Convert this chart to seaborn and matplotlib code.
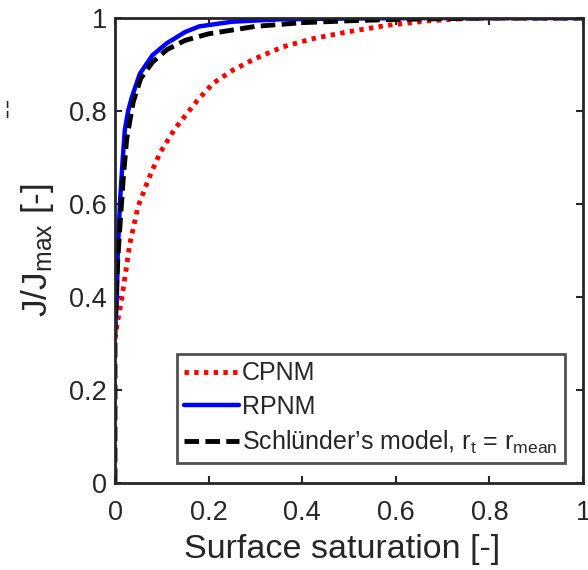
import numpy as np
import pandas as pd
import matplotlib
matplotlib.use("Agg")
import matplotlib.pyplot as plt
import seaborn as sns

# --- data ---
cpnm_s = [0, 0.005, 0.014, 0.032, 0.049, 0.071, 0.096, 0.128, 0.177, 0.21, 0.252, 0.30, 0.359, 0.42, 0.496, 0.58, 0.67, 0.75, 0.80, 1.0]
cpnm_j = [0.31, 0.345, 0.394, 0.516, 0.594, 0.652, 0.71, 0.762, 0.824, 0.86, 0.888, 0.913, 0.938, 0.955, 0.970, 0.984, 0.994, 0.999, 1.0, 1.0]

rpnm_s = [0, 0.002, 0.004, 0.006, 0.011, 0.016, 0.021, 0.028, 0.036, 0.053, 0.08, 0.111, 0.15, 0.18, 0.25, 0.35, 0.5, 0.7, 1.0]
rpnm_j = [0.333, 0.36, 0.40, 0.50, 0.61, 0.69, 0.76, 0.80, 0.83, 0.88, 0.92, 0.946, 0.97, 0.982, 0.992, 0.997, 0.999, 1.0, 1.0]

schl_s = [0, 0, 0.003, 0.006, 0.009, 0.018, 0.025, 0.039, 0.055, 0.08, 0.111, 0.15, 0.2, 0.3, 0.4, 0.5, 0.6, 0.8, 1.0]
schl_j = [0, 0.33, 0.42, 0.48, 0.53, 0.66, 0.74, 0.82, 0.87, 0.905, 0.932, 0.952, 0.966, 0.982, 0.99, 0.994, 0.997, 1.0, 1.0]

labels = ["CPNM", "RPNM", "Schlünder’s model, r$_{\\mathrm{t}}$ = r$_{\\mathrm{mean}}$"]
x_ticks = [0, 0.2, 0.4, 0.6, 0.8, 1]
y_ticks = [0, 0.2, 0.4, 0.6, 0.8, 1]
x_ticklabels = ["0", "0.2", "0.4", "0.6", "0.8", "1"]
y_ticklabels = ["0", "0.2", "0.4", "0.6", "0.8", "1"]

sns.set_theme(style="white")
plt.rcParams["font.family"] = ["Liberation Sans", "DejaVu Sans"]
plt.rcParams["mathtext.fontset"] = "custom"
plt.rcParams["mathtext.rm"] = "Liberation Sans"
plt.rcParams["mathtext.it"] = "Liberation Sans:italic"

df = pd.concat([
    pd.DataFrame({"s": cpnm_s, "J": cpnm_j, "model": labels[0]}),
    pd.DataFrame({"s": rpnm_s, "J": rpnm_j, "model": labels[1]}),
    pd.DataFrame({"s": schl_s, "J": schl_j, "model": labels[2]}),
])

fig = plt.figure(figsize=(5.88, 5.70), dpi=100)
ax = fig.add_axes([0.1956, 0.1526, 0.7959, 0.8158])

styles = {
    labels[0]: dict(color="#ff0000", linestyle=(0, (0.9, 1.1)), linewidth=3.5),
    labels[1]: dict(color="#0000ff", linestyle="-", linewidth=3.2),
    labels[2]: dict(color="black", linestyle=(0, (3.0, 1.3)), linewidth=3.5),
}
for lab in labels:
    sub = df[df["model"] == lab]
    sns.lineplot(data=sub, x="s", y="J", sort=False, estimator=None, ax=ax,
                 label=lab, **styles[lab])

ax.set_xlim(0, 1)
ax.set_ylim(0, 1)
ax.set_xticks(x_ticks)
ax.set_xticklabels(x_ticklabels)
ax.set_yticks(y_ticks)
ax.set_yticklabels(y_ticklabels)
ax.tick_params(direction="in", length=5, width=1.5, labelsize=19.5, colors="#262626",
               top=True, right=True, bottom=True, left=True, pad=6)
ax.tick_params(axis="x", pad=12)
for sp in ax.spines.values():
    sp.set_linewidth(2)
    sp.set_color("#262626")
ax.set_xlabel("Surface saturation [-]", fontsize=24.5, color="#262626", labelpad=6, x=0.485)
ax.set_ylabel("J/J$_{\\mathrm{max}}$ [-]", fontsize=25.5, color="#262626", labelpad=9)

leg = ax.legend(loc="lower right", bbox_to_anchor=(0.961, 0.043), borderaxespad=0,
                fontsize=18, frameon=True, fancybox=False, handlelength=2.2,
                handletextpad=0.1, borderpad=0.3, labelspacing=0.38)
leg.get_frame().set_edgecolor("#262626")
leg.get_frame().set_linewidth(2)
for t in leg.get_texts():
    t.set_color("#262626")

fig.text(0.008, 0.80, "¦", fontsize=14, color="#262626")

fig.savefig("out.png", dpi=100)
